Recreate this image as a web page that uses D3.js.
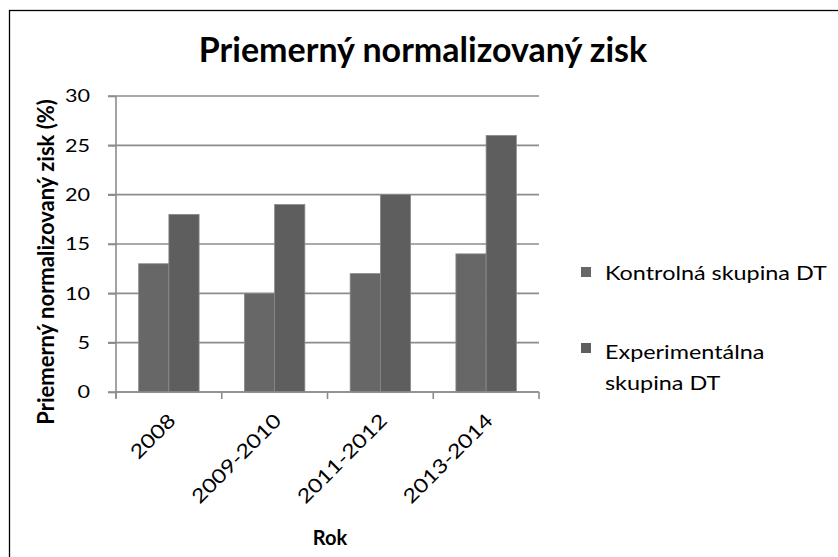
<!DOCTYPE html>
<html>
<head>
<meta charset="utf-8">
<script src="https://cdn.jsdelivr.net/npm/d3@7"></script>
<style>
  body { margin: 0; background: #fff; }
  text { font-family: Lato, "Open Sans", sans-serif; fill: #000; }
</style>
</head>
<body>
<svg width="838" height="557"></svg>
<script>
// data
var years = ["2008", "2009-2010", "2011-2012", "2013-2014"];
var seriesNames = ["Kontrolná skupina DT", "Experimentálna skupina DT"];
var kontrolna = [13, 10, 12, 14];
var experimentalna = [18, 19, 20, 26];
var yTicks = [0, 5, 10, 15, 20, 25, 30];
var colors = ["#676767", "#5e5e5e"];

var svg = d3.select("svg");

// chart frame (runs off right and bottom)
svg.append("rect")
    .attr("x", 9.5).attr("y", 10.5)
    .attr("width", 840).attr("height", 560)
    .attr("fill", "none").attr("stroke", "#000").attr("stroke-width", 1.3);

var plotL = 116, plotR = 539, plotT = 96, plotB = 392;
var axisCol = "#8c8c8c";

var x = d3.scaleBand().domain(years).range([plotL, plotR]);
var inner = d3.scaleBand().domain([0, 1]).range([0, x.bandwidth()]).paddingOuter(0.75);
var y = d3.scaleLinear().domain([0, 30]).range([plotB, plotT]);

// gridlines
var g = svg.append("g");
g.selectAll(".grid").data(yTicks).enter().append("line")
    .attr("x1", plotL - 8).attr("x2", plotR)
    .attr("y1", function (d) { return y(d); })
    .attr("y2", function (d) { return y(d); })
    .attr("stroke", axisCol).attr("stroke-width", 1.6);

// bars
var table = years.map(function (yr, i) { return { year: yr, vals: [kontrolna[i], experimentalna[i]] }; });
var groups = g.selectAll(".grp").data(table).enter().append("g")
    .attr("transform", function (d) { return "translate(" + x(d.year) + ",0)"; });
groups.selectAll("rect").data(function (d) { return d.vals; }).enter().append("rect")
    .attr("x", function (d, i) { return inner(i); })
    .attr("width", inner.bandwidth())
    .attr("y", function (d) { return y(d); })
    .attr("height", function (d) { return y(0) - y(d); })
    .attr("fill", function (d, i) { return colors[i]; })
    .attr("stroke", "#8a8a8a").attr("stroke-width", 0.8);

// y axis
var yAxis = svg.append("g")
    .attr("transform", "translate(" + plotL + ",0)")
    .call(d3.axisLeft(y).tickValues(yTicks).tickSize(8));
yAxis.select(".domain").attr("stroke", axisCol).attr("stroke-width", 1.6).attr("d", "M0," + (plotB + 6) + "V" + plotT);
yAxis.selectAll(".tick line").attr("stroke", axisCol).attr("stroke-width", 1.6);
yAxis.selectAll(".tick text")
    .attr("x", -26 / 1.2)
    .attr("transform", "scale(1.2,1)")
    .style("font-size", "18px").style("font-family", "Lato").attr("fill", "#000");

// x axis
var xAxis = svg.append("g")
    .attr("transform", "translate(0," + plotB + ")")
    .call(d3.axisBottom(x).tickSize(0).tickFormat(""));
xAxis.select(".domain").attr("stroke", axisCol).attr("stroke-width", 1.6).attr("d", "M" + plotL + ",0H" + plotR);
var xt = [plotL].concat(years.map(function (d) { return x(d) + x.bandwidth(); }));
xAxis.selectAll(".xt").data(xt).enter().append("line")
    .attr("x1", function (d) { return d; }).attr("x2", function (d) { return d; })
    .attr("y1", 0).attr("y2", 7)
    .attr("stroke", axisCol).attr("stroke-width", 1.6);
xAxis.selectAll(".xl").data(years).enter().append("text")
    .attr("transform", function (d) {
        return "translate(" + (x(d) + x.bandwidth() / 2 + 8) + ",30) rotate(-45) scale(1.2,1)";
    })
    .attr("text-anchor", "end")
    .style("font-size", "19.5px")
    .text(function (d) { return d; });

// title
svg.append("text")
    .attr("x", 423).attr("y", 62)
    .attr("text-anchor", "middle")
    .style("font-size", "34px").style("font-weight", "bold")
    .text("Priemerný normalizovaný zisk");

// axis titles
svg.append("text")
    .attr("transform", "translate(54,262) rotate(-90)")
    .attr("text-anchor", "middle")
    .style("font-size", "22px").style("font-weight", "bold")
    .text("Priemerný normalizovaný zisk  (%)");
svg.append("text")
    .attr("x", 330).attr("y", 545)
    .attr("text-anchor", "middle")
    .style("font-size", "20px").style("font-weight", "bold")
    .text("Rok");

// legend
var legend = svg.append("g").attr("transform", "translate(581,0)");
var legY = [267, 343];
var legLines = [["Kontrolná skupina DT"], ["Experimentálna", "skupina DT"]];
var legBase = [[280], [359, 390]];
seriesNames.forEach(function (name, i) {
    legend.append("rect")
        .attr("x", 0).attr("y", legY[i])
        .attr("width", 10).attr("height", 10)
        .attr("fill", colors[i]);
    legLines[i].forEach(function (ln, j) {
        legend.append("text")
            .attr("transform", "translate(24," + legBase[i][j] + ") scale(1.2,1)")
            .style("font-size", "19.5px")
            .text(ln);
    });
});
</script>
</body>
</html>
